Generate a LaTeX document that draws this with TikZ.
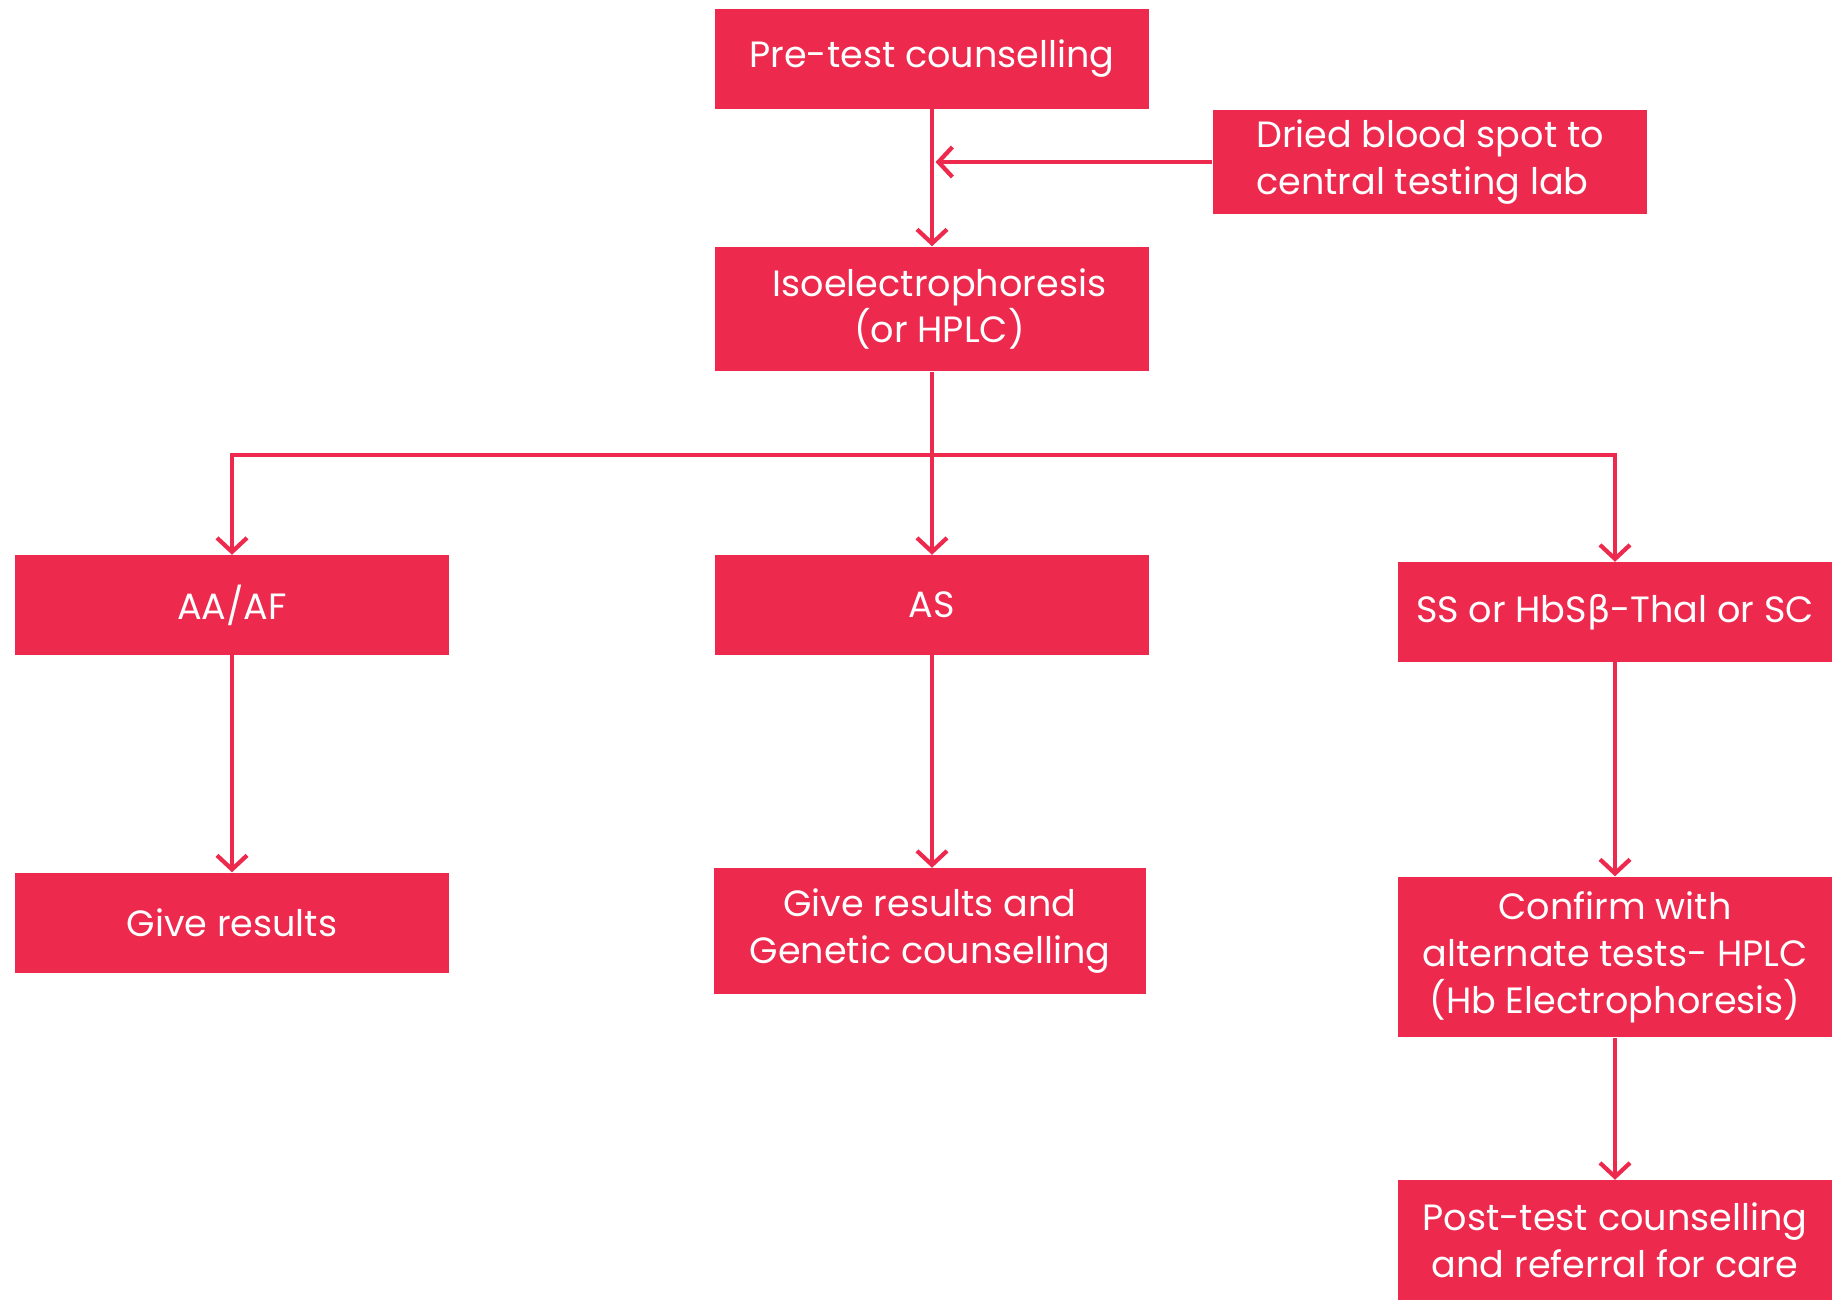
\documentclass[tikz,border=0pt]{standalone}
\usepackage{fontspec}
\setmainfont{Poppins}
\newfontfamily\grecque{DejaVu Sans}
\usepackage{xcolor}
\usetikzlibrary{arrows.meta}
\definecolor{rouge}{RGB}{237,41,77}

\begin{document}
\begin{tikzpicture}[x=0.01cm,y=-0.01cm,
	boite/.style={fill=rouge,text=white,minimum width=4.34cm,inner sep=0pt,align=center,font=\fontsize{10.4pt}{13.3pt}\selectfont},
	fleche/.style={color=rouge,line width=0.9pt,-{Straight Barb[length=1.4mm,width=3mm,line width=1.2pt]}}]
	\useasboundingbox (0,0) rectangle (1843,1309);
	% les boites
	\node[boite,minimum height=0.99cm] (pretest) at (932,59) {Pre-test counselling};
	\node[boite,minimum height=1.03cm,align=left] (dbs) at (1430,162) {Dried blood spot to\\central testing lab};
	\node[boite,minimum height=1.24cm] (iso) at (932,309) {\hspace{0.15cm}Isoelectrophoresis\\\hspace{0.15cm}(or HPLC)};
	\node[boite,minimum height=0.99cm] (aa) at (232,605) {AA/AF};
	\node[boite,minimum height=0.99cm] (as) at (932,605) {AS};
	\node[boite,minimum height=0.99cm] (ss) at (1615,612) {SS or HbS{\grecque β}-Thal or SC};
	\node[boite,minimum height=1.00cm] (resultats) at (232,923) {Give results};
	\node[boite,minimum height=1.25cm,minimum width=4.31cm] (genetique) at (930,931) {Give results and\\Genetic counselling};
	\node[boite,minimum height=1.60cm] (confirmer) at (1615,957) {Confirm with\\alternate tests- HPLC\\(Hb Electrophoresis)};
	\node[boite,minimum height=1.19cm] (posttest) at (1615,1240) {Post-test counselling\\and referral for care};
	% les fleches
	\coordinate (branche) at (932,455);
	\draw[fleche] (pretest) -- (iso);
	\draw[fleche,shorten >=1pt] (dbs.west) -- (dbs.west -| pretest.south);
	\draw[fleche] (iso) -- (as);
	\draw[fleche] (branche) -| (aa.north);
	\draw[fleche] (branche) -| (ss.north);
	\draw[fleche] (aa) -- (resultats);
	\draw[fleche] (as.south) -- (as.south |- genetique.north);
	\draw[fleche] (ss) -- (confirmer);
	\draw[fleche] (confirmer) -- (posttest);
\end{tikzpicture}
\end{document}
